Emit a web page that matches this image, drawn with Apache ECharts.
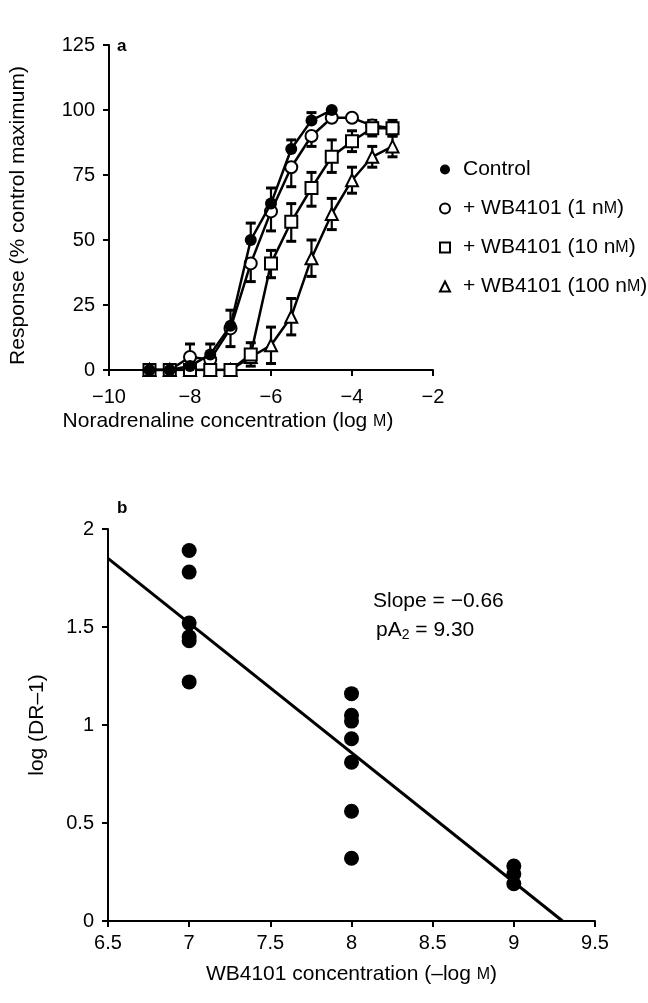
<!DOCTYPE html>
<html>
<head>
<meta charset="utf-8">
<script src="https://cdn.jsdelivr.net/npm/echarts@6/dist/echarts.min.js"></script>
<style>
html,body{margin:0;padding:0;background:#fff;}
#chart{width:648px;height:1003px;}
</style>
</head>
<body>
<div id="chart"></div>
<script>
// ---------- Panel a data ----------
const logConc = [-9, -8.5, -8, -7.5, -7, -6.5, -6, -5.5, -5, -4.5, -4, -3.5, -3];
const seriesNames = ['Control', '+ WB4101 (1 nM)', '+ WB4101 (10 nM)', '+ WB4101 (100 nM)'];
const control      = [0, 0, 1.5, 6, 17, 50, 64, 85, 96, 100];
const controlUp    = [0, 0, 0, 4, 6, 6.5, 6, 3.5, 3, 0];
const controlDown  = [0, 0, 0, 0, 0, 0, 0, 0, 0, 0];
const wb1          = [0, 0, 5, 4, 16, 41, 61, 78, 90, 97, 97, 94, 93];
const wb1Up        = [0, 0, 5, 0, 0, 0, 0, 0, 0, 0, 0, 0, 0];
const wb1Down      = [0, 0, 0, 0, 7, 7, 7.5, 7.5, 4, 0, 0, 0, 0];
const wb10         = [0, 0, 0, 0, 0, 6, 41, 57, 70, 82, 88, 93, 93];
const wb10Up       = [0, 0, 0, 0, 0, 4.5, 5, 7, 6, 6.5, 4, 3, 3];
const wb10Down     = [0, 0, 0, 0, 0, 4.5, 5.5, 7.5, 7, 6, 4, 3, 3];
const wb100        = [0, 0, 0, 0, 0, 5, 9.5, 20.5, 43, 60, 73, 82, 86];
const wb100Up      = [0, 0, 0, 0, 0, 0, 7, 7, 7, 6, 5, 4, 4];
const wb100Down    = [0, 0, 0, 0, 0, 0, 7, 7, 7, 6, 5, 4, 4];
const aXTicks = [-10, -8, -6, -4, -2];
const aYTicks = [0, 25, 50, 75, 100, 125];

// ---------- Panel b data ----------
const bConc = [7, 8, 9];
const bAt7 = [1.89, 1.78, 1.52, 1.45, 1.43, 1.22];
const bAt8 = [1.16, 1.05, 1.02, 0.93, 0.81, 0.56, 0.32];
const bAt9 = [0.28, 0.24, 0.19];
const fitX = [6.5, 9.3];
const fitY = [1.85, 0];
const slopeText = 'Slope = \u22120.66';
const pA2Value = '9.30';

const FONT = 'Liberation Sans';
const minus = v => String(v).replace('-', '\u2212');

function pairs(vals){ return vals.map((v,i)=>[logConc[i], v]); }
function errPairs(vals, up, dn){ return vals.map((v,i)=>[logConc[i], v, up[i], dn[i]]); }

function errRender(params, api){
  const x = api.value(0), y = api.value(1), up = api.value(2), dn = api.value(3);
  const p = api.coord([x, y]);
  const ch = [];
  const hw = 5;
  if (up > 0){
    const t = api.coord([x, y + up]);
    ch.push({type:'line', shape:{x1:p[0], y1:p[1], x2:t[0], y2:t[1]}, style:{stroke:'#000', lineWidth:2.2}});
    ch.push({type:'line', shape:{x1:t[0]-hw, y1:t[1], x2:t[0]+hw, y2:t[1]}, style:{stroke:'#000', lineWidth:3}});
  }
  if (dn > 0){
    const b = api.coord([x, y - dn]);
    ch.push({type:'line', shape:{x1:p[0], y1:p[1], x2:b[0], y2:b[1]}, style:{stroke:'#000', lineWidth:2.2}});
    ch.push({type:'line', shape:{x1:b[0]-hw, y1:b[1], x2:b[0]+hw, y2:b[1]}, style:{stroke:'#000', lineWidth:3}});
  }
  return {type:'group', children: ch};
}

function legendFmt(name){
  const m = name.match(/^(.*\(\d+ n)M(\))$/);
  if (m) return '{t|' + m[1] + '}{s|M}{t|' + m[2] + '}';
  return '{t|' + name + '}';
}
function nameWithSmallM(pre, post){ return '{t|' + pre + '}{s|M}{t|' + post + '}'; }

const axisCommon = {
  axisLine:{show:true, onZero:false, lineStyle:{color:'#000', width:2}},
  axisTick:{show:true, length:6, lineStyle:{color:'#000', width:2}},
  splitLine:{show:false},
  axisLabel:{color:'#000', fontFamily:FONT, fontSize:20},
};
const nameRich = {
  t:{fontFamily:FONT, fontSize:21, color:'#000'},
  s:{fontFamily:FONT, fontSize:16, color:'#000'},
  sub:{fontFamily:FONT, fontSize:14, color:'#000', verticalAlign:'bottom', padding:[9,0,0,0]}
};

const chart = echarts.init(document.getElementById('chart'), null, {renderer:'canvas'});

const option = {
  animation:false,
  backgroundColor:'#fff',
  grid:[
    {left:108, top:45, width:325, height:325},
    {left:108, top:529, width:487, height:392}
  ],
  xAxis:[
    Object.assign({}, axisCommon, {
      gridIndex:0, type:'value', min:aXTicks[0], max:aXTicks[aXTicks.length-1], interval:2,
      axisLabel:Object.assign({}, axisCommon.axisLabel, {margin:17, formatter:v=>minus(v)}),
      name: nameWithSmallM('Noradrenaline concentration (log ', ')'),
      nameLocation:'middle', nameGap:41,
      nameTextStyle:{rich:nameRich, padding:[0,86,0,0]}
    }),
    Object.assign({}, axisCommon, {
      gridIndex:1, type:'value', min:6.5, max:9.5, interval:0.5,
      axisLabel:Object.assign({}, axisCommon.axisLabel, {margin:12}),
      name: nameWithSmallM('WB4101 concentration (\u2013log ', ')'),
      nameLocation:'middle', nameGap:43,
      nameTextStyle:{rich:nameRich}
    })
  ],
  yAxis:[
    Object.assign({}, axisCommon, {
      gridIndex:0, type:'value', min:aYTicks[0], max:aYTicks[aYTicks.length-1], interval:25,
      axisLabel:Object.assign({}, axisCommon.axisLabel, {margin:14}),
      name:'Response (% control maximum)', nameLocation:'middle', nameGap:80,
      nameTextStyle:{fontFamily:FONT, fontSize:21, color:'#000', padding:[0,16,0,0]}
    }),
    Object.assign({}, axisCommon, {
      gridIndex:1, type:'value', min:0, max:2, interval:0.5,
      axisLabel:Object.assign({}, axisCommon.axisLabel, {margin:14}),
      name:'log (DR\u20131)', nameLocation:'middle', nameGap:60,
      nameTextStyle:{fontFamily:FONT, fontSize:21, color:'#000'}
    })
  ],
  legend:{
    orient:'vertical', left:434, top:154, itemGap:18, itemWidth:10, itemHeight:10,
    selectedMode:false,
    formatter:legendFmt,
    textStyle:{padding:[0,0,0,8], rich:{
      t:{fontFamily:FONT, fontSize:21, color:'#000', lineHeight:21},
      s:{fontFamily:FONT, fontSize:16, color:'#000', lineHeight:21}
    }},
    data:[
      {name:seriesNames[0], icon:'circle', itemStyle:{color:'#000', borderWidth:0}},
      {name:seriesNames[1], icon:'circle', itemStyle:{color:'#fff', borderColor:'#000', borderWidth:2}},
      {name:seriesNames[2], icon:'rect', itemStyle:{color:'#fff', borderColor:'#000', borderWidth:2}},
      {name:seriesNames[3], icon:'triangle', itemStyle:{color:'#fff', borderColor:'#000', borderWidth:2}}
    ]
  },
  graphic:[
    {type:'text', left:117, top:38, style:{text:'a', font:'bold 17px "Liberation Sans"', fill:'#000'}},
    {type:'text', left:117, top:500, style:{text:'b', font:'bold 17px "Liberation Sans"', fill:'#000'}},
    {type:'text', left:373, top:591, style:{text:slopeText, font:'21px "Liberation Sans"', fill:'#000'}},
    {type:'text', left:376, top:620, style:{
      text:'{t|pA}{sub|2}{t| = ' + pA2Value + '}',
      rich:nameRich
    }}
  ],
  series:[
    // error bars (beneath markers)
    {type:'custom', xAxisIndex:0, yAxisIndex:0, renderItem:errRender, data:errPairs(wb100, wb100Up, wb100Down), z:1, silent:true},
    {type:'custom', xAxisIndex:0, yAxisIndex:0, renderItem:errRender, data:errPairs(wb10, wb10Up, wb10Down), z:1, silent:true},
    {type:'custom', xAxisIndex:0, yAxisIndex:0, renderItem:errRender, data:errPairs(wb1, wb1Up, wb1Down), z:1, silent:true},
    {type:'custom', xAxisIndex:0, yAxisIndex:0, renderItem:errRender, data:errPairs(control, controlUp, controlDown), z:1, silent:true},
    // curves
    {name:seriesNames[3], type:'line', xAxisIndex:0, yAxisIndex:0, data:pairs(wb100), symbol:'emptyTriangle', symbolSize:12,
      lineStyle:{color:'#000', width:2.5}, itemStyle:{color:'#000', borderWidth:2.5}, z:3},
    {name:seriesNames[1], type:'line', xAxisIndex:0, yAxisIndex:0, data:pairs(wb1), symbol:'emptyCircle', symbolSize:12,
      lineStyle:{color:'#000', width:2.5}, itemStyle:{color:'#000', borderWidth:2.5}, z:4},
    {name:seriesNames[2], type:'line', xAxisIndex:0, yAxisIndex:0, data:pairs(wb10), symbol:'emptyRect', symbolSize:12,
      lineStyle:{color:'#000', width:2.5}, itemStyle:{color:'#000', borderWidth:2.5}, z:5},
    {name:seriesNames[0], type:'line', xAxisIndex:0, yAxisIndex:0, data:pairs(control), symbol:'circle', symbolSize:12,
      lineStyle:{color:'#000', width:2.5}, itemStyle:{color:'#000'}, z:6},
    // panel b
    {type:'line', xAxisIndex:1, yAxisIndex:1, data:fitX.map((x,i)=>[x, fitY[i]]), symbol:'none',
      lineStyle:{color:'#000', width:3}, z:3},
    {type:'scatter', xAxisIndex:1, yAxisIndex:1, symbolSize:15, itemStyle:{color:'#000', opacity:1},
      data:[].concat(
        bAt7.map(v=>[bConc[0], v]),
        bAt8.map(v=>[bConc[1], v]),
        bAt9.map(v=>[bConc[2], v])
      ), z:4}
  ]
};
chart.setOption(option);
</script>
</body>
</html>
